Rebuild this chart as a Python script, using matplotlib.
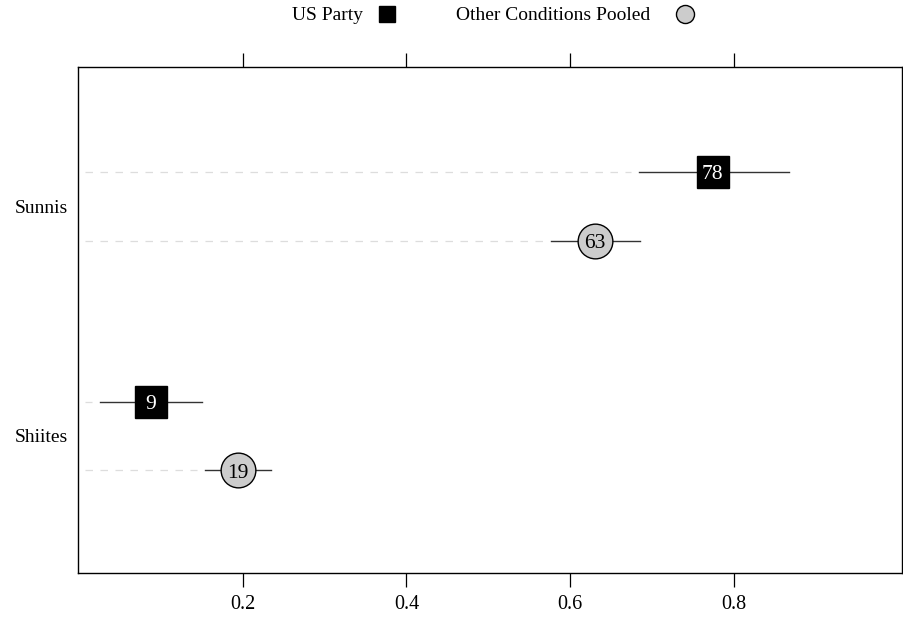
import matplotlib
matplotlib.use("Agg")
import matplotlib.pyplot as plt
from matplotlib.lines import Line2D

plt.rcParams['font.family'] = ['Liberation Serif', 'DejaVu Serif']

groups = ["Sunnis", "Shiites"]
series = ["US Party", "Other Conditions Pooled"]
# estimates and confidence bounds, per group (Sunnis, Shiites)
us_est = [0.774, 0.088]
us_lo = [0.684, 0.026]
us_hi = [0.867, 0.150]
us_lab = ["78", "9"]
oth_est = [0.630, 0.194]
oth_lo = [0.577, 0.154]
oth_hi = [0.685, 0.235]
oth_lab = ["63", "19"]

fig = plt.figure(figsize=(9.04, 6.23), dpi=100)
ax = fig.add_axes([0.0863, 0.0803, 0.9115, 0.812])

ypos = [1, 0]
off = 0.150
xmin, xmax = -0.001, 1.005

for i, y in enumerate(ypos):
    ya = y + off
    yb = y - off
    # dashed guide lines
    ax.plot([xmin + 0.008, us_lo[i] - 0.01], [ya, ya], color="#dddddd", lw=0.9,
            ls=(0, (6, 6)), zorder=1)
    ax.plot([xmin + 0.008, oth_lo[i] - 0.01], [yb, yb], color="#dddddd", lw=0.9,
            ls=(0, (6, 6)), zorder=1)
    # intervals
    ax.plot([us_lo[i], us_hi[i]], [ya, ya], color="#333333", lw=1.0, zorder=2)
    ax.plot([oth_lo[i], oth_hi[i]], [yb, yb], color="#333333", lw=1.0, zorder=2)
    # markers
    ax.plot(us_est[i], ya, marker="s", ms=23, mfc="black", mec="black", zorder=3)
    ax.annotate(us_lab[i], (us_est[i], ya), xytext=(0, -5.3), textcoords="offset points",
                color="white", ha="center", va="baseline", fontsize=15.5, zorder=4)
    ax.plot(oth_est[i], yb, marker="o", ms=25, mfc="#cccccc", mec="black", mew=1.0, zorder=3)
    ax.annotate(oth_lab[i], (oth_est[i], yb), xytext=(0, -5.3), textcoords="offset points",
                color="black", ha="center", va="baseline", fontsize=15.5, zorder=4)

ax.set_xlim(xmin, xmax)
ax.set_ylim(-0.597, 1.607)
ax.set_yticks(ypos)
ax.set_yticklabels(groups, fontsize=14)
ax.tick_params(axis="y", length=0, pad=7.5)
ax.set_xticks([0.2, 0.4, 0.6, 0.8])
ax.set_xticklabels(["0.2", "0.4", "0.6", "0.8"], fontsize=14.5)
ax.tick_params(axis="x", top=True, length=10, width=0.9, direction="out", pad=6)
for s in ax.spines.values():
    s.set_linewidth(1.0)

# legend on top
ly = 1 - 14 / 623
fig.text(363 / 904, ly - 1.5 / 623, series[0], ha="right", va="center", fontsize=14)
fig.lines.append(Line2D([387.5 / 904], [ly], marker="s", ms=12,
                        mfc="black", mec="black", transform=fig.transFigure))
fig.text(650 / 904, ly - 1.5 / 623, series[1], ha="right", va="center", fontsize=14)
fig.lines.append(Line2D([685 / 904], [ly], marker="o", ms=13,
                        mfc="#cccccc", mec="black", transform=fig.transFigure))

fig.savefig("out.png", dpi=100)
